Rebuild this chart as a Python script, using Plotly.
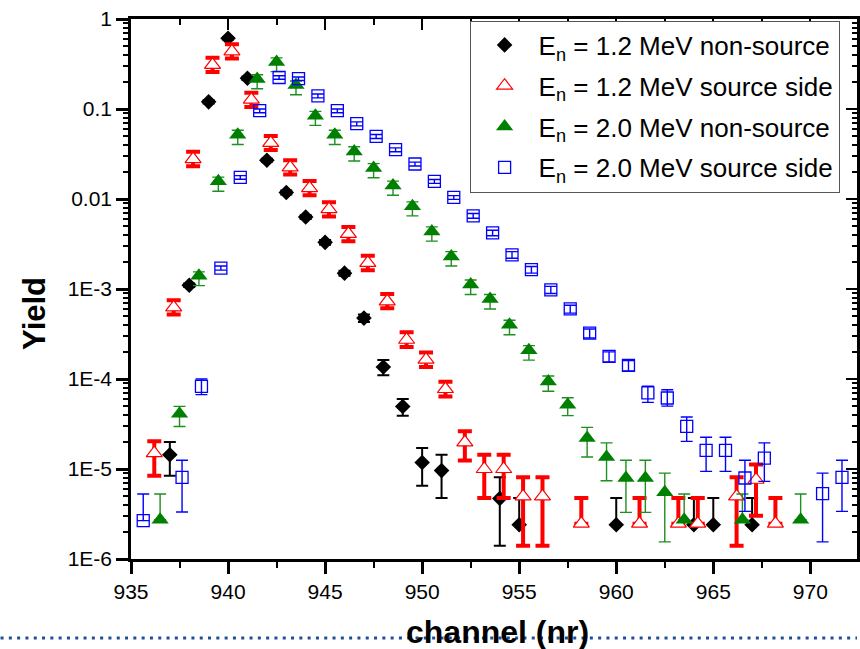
import plotly.graph_objects as go

# ---------------- data ----------------
# E_n = 1.2 MeV non-source (black diamonds)
ch_k = [937, 938, 939, 940, 941, 942, 943, 944, 945, 946, 947, 948, 949, 950, 951, 954, 955, 960, 964, 965, 967]
y_k = [1.44e-5, 1.1e-3, 0.12, 0.61, 0.22, 0.027, 0.0118, 0.0063, 0.0033, 0.0015, 4.75e-4, 1.36e-4, 4.95e-5,
       1.18e-5, 9.6e-6, 4.7e-6, 2.4e-6, 2.4e-6, 2.4e-6, 2.4e-6, 2.4e-6]
hi_k = [2.0e-5, 1.15e-3, 0.125, 0.63, 0.23, 0.028, 0.0124, 0.0066, 0.0035, 0.0016, 5.2e-4, 1.63e-4, 6.0e-5,
        1.71e-5, 1.44e-5, 8.1e-6, 4.76e-6, 4.76e-6, 4.76e-6, 4.76e-6, 4.76e-6]
lo_k = [8.4e-6, 1.05e-3, 0.115, 0.59, 0.21, 0.026, 0.0112, 0.006, 0.0031, 0.0014, 4.3e-4, 1.1e-4, 3.9e-5,
        6.5e-6, 4.76e-6, 1.4e-6, None, None, None, None, None]

# E_n = 1.2 MeV source side (red open triangles)
ch_r = [936.2, 937.2, 938.2, 939.2, 940.2, 941.2, 942.2, 943.2, 944.2, 945.2, 946.2, 947.2, 948.2, 949.2,
        950.2, 951.2, 952.2, 953.2, 954.2, 955.2, 956.2, 958.2, 961.2, 963.2, 964.2, 966.2, 967.2, 968.2]
y_r = [1.5e-5, 6.25e-4, 0.0278, 0.31, 0.437, 0.127, 0.042, 0.0225, 0.0132, 0.0077, 0.0041, 0.00195, 7.3e-4,
       2.73e-4, 1.64e-4, 7.74e-5, 1.98e-5, 1.0e-5, 1.0e-5, 4.96e-6, 4.96e-6, 2.47e-6, 2.47e-6, 2.47e-6,
       2.47e-6, 4.96e-6, 7.6e-6, 2.47e-6]
hi_r = [2.03e-5, 7.5e-4, 0.0334, 0.372, 0.524, 0.152, 0.050, 0.027, 0.0158, 0.0092, 0.0049, 0.00234, 8.8e-4,
        3.3e-4, 1.97e-4, 9.3e-5, 2.62e-5, 1.44e-5, 1.44e-5, 8.1e-6, 8.1e-6, 4.76e-6, 4.76e-6, 4.76e-6,
        4.76e-6, 8.1e-6, 1.12e-5, 4.76e-6]
lo_r = [8.4e-6, 5.2e-4, 0.0231, 0.257, 0.363, 0.105, 0.035, 0.0187, 0.011, 0.0064, 0.0034, 0.00162, 6.1e-4,
        2.27e-4, 1.36e-4, 6.4e-5, 1.24e-5, 4.76e-6, 4.76e-6, 1.4e-6, 1.4e-6, None, None, None,
        None, 1.4e-6, 3.03e-6, None]

# E_n = 2.0 MeV non-source (green filled triangles)
ch_g = [936.5, 937.5, 938.5, 939.5, 940.5, 941.5, 942.5, 943.5, 944.5, 945.5, 946.5, 947.5, 948.5, 949.5,
        950.5, 951.5, 952.5, 953.5, 954.5, 955.5, 956.5, 957.5, 958.5, 959.5, 960.5, 961.5, 962.5, 963.5,
        966.5, 969.5]
y_g = [2.73e-6, 4.1e-5, 1.4e-3, 0.0157, 0.0518, 0.215, 0.333, 0.185, 0.0843, 0.0518, 0.0338, 0.0221, 0.0141,
       0.0083, 0.00436, 0.0023, 0.00112, 7.74e-4, 4.0e-4, 2.08e-4, 9.4e-5, 5.18e-5, 2.21e-5, 1.36e-5,
       7.94e-6, 7.94e-6, 5.5e-6, 2.73e-6, 2.73e-6, 2.73e-6]
hi_g = [5.27e-6, 4.96e-5, 1.55e-3, 0.0175, 0.058, 0.24, 0.37, 0.205, 0.094, 0.058, 0.038, 0.0247, 0.0158,
        0.0093, 0.0049, 0.0026, 0.00126, 8.7e-4, 4.5e-4, 2.35e-4, 1.08e-4, 6.2e-5, 2.9e-5, 1.95e-5,
        1.25e-5, 1.25e-5, 9.0e-6, 5.27e-6, 5.27e-6, 5.27e-6]
lo_g = [None, 2.97e-5, 1.09e-3, 0.0122, 0.0404, 0.168, 0.26, 0.144, 0.0658, 0.0404, 0.0264, 0.0172, 0.011,
        0.0065, 0.0034, 0.0018, 8.7e-4, 6.0e-4, 3.1e-4, 1.62e-4, 7.3e-5, 3.92e-5, 1.36e-5, 7.4e-6,
        3.3e-6, 3.3e-6, 1.55e-6, None, None, None]

# E_n = 2.0 MeV source side (blue open squares)
ch_b = [935.63, 937.63, 938.63, 939.63, 940.63, 941.63, 942.63, 943.63, 944.63, 945.63, 946.63, 947.63,
        948.63, 949.63, 950.63, 951.63, 952.63, 953.63, 954.63, 955.63, 956.63, 957.63, 958.63, 959.63,
        960.63, 961.63, 962.63, 963.63, 964.63, 965.63, 966.63, 967.63, 970.63, 971.63]
y_b = [2.67e-6, 8.07e-6, 8.27e-5, 1.71e-3, 0.0174, 0.0958, 0.224, 0.217, 0.14, 0.0958, 0.0687, 0.0496,
       0.0353, 0.0245, 0.0157, 0.0104, 0.0065, 0.0042, 0.0024, 0.00164, 9.8e-4, 6.0e-4, 3.24e-4, 1.78e-4,
       1.42e-4, 7.0e-5, 6.15e-5, 2.98e-5, 1.61e-5, 1.61e-5, 7.94e-6, 1.32e-5, 5.32e-6, 8.07e-6]
hi_b = [5.27e-6, 1.25e-5, 1.0e-4, 1.8e-3, 0.0182, 0.1, 0.234, 0.227, 0.147, 0.1, 0.072, 0.052,
        0.037, 0.0257, 0.0165, 0.0109, 0.0069, 0.0045, 0.0026, 0.00178, 1.07e-3, 6.6e-4, 3.6e-4, 2.0e-4,
        1.6e-4, 8.3e-5, 7.6e-5, 3.78e-5, 2.25e-5, 2.25e-5, 1.25e-5, 1.95e-5, 9.0e-6, 1.25e-5]
lo_b = [None, 3.33e-6, 6.7e-5, 1.62e-3, 0.0166, 0.091, 0.214, 0.207, 0.133, 0.091, 0.065, 0.047,
        0.0335, 0.0233, 0.0149, 0.0099, 0.0061, 0.0039, 0.0022, 0.0015, 8.9e-4, 5.4e-4, 2.85e-4, 1.55e-4,
        1.23e-4, 5.5e-5, 5.0e-5, 2.03e-5, 9.4e-6, 9.4e-6, 3.38e-6, 7.28e-6, 1.55e-6, 3.38e-6]

names = ["E<sub>n</sub> = 1.2 MeV non-source", "E<sub>n</sub> = 1.2 MeV source side",
         "E<sub>n</sub> = 2.0 MeV non-source", "E<sub>n</sub> = 2.0 MeV source side"]

y_tickvals = [1e-6, 1e-5, 1e-4, 1e-3, 1e-2, 1e-1, 1]
y_ticktext = ["1E-6", "1E-5", "1E-4", "1E-3", "0.01", "0.1", "1"]

FONT = "Liberation Sans, Arial, sans-serif"


def errs(y, hi, lo):
    plus = [h - v for v, h in zip(y, hi)]
    minus = [0 if l is None else v - l for v, l in zip(y, lo)]
    return plus, minus


fig = go.Figure()

series = [
    (ch_k, y_k, hi_k, lo_k, dict(symbol="diamond", size=12, color="black"),
     dict(color="black", thickness=2, width=6)),
    (ch_r, y_r, hi_r, lo_r, dict(symbol="triangle-up", size=14, color="white",
                                 line=dict(color="#ff0000", width=1.2)),
     dict(color="#ff0000", thickness=4, width=7)),
    (ch_g, y_g, hi_g, lo_g, dict(symbol="triangle-up", size=15, color="#008000"),
     dict(color="#1f8f1f", thickness=1.4, width=6)),
    (ch_b, y_b, hi_b, lo_b, dict(symbol="square-open", size=12, color="#0000ff",
                                 line=dict(color="#0000ff", width=1.3)),
     dict(color="#0000ff", thickness=1.4, width=6)),
]

for i, (xs, ys, hi, lo, mk, eb) in enumerate(series):
    plus, minus = errs(ys, hi, lo)
    fig.add_trace(go.Scatter(
        x=xs, y=ys, mode="markers", name=names[i], legendgroup=f"g{i}",
        marker=mk,
        error_y=dict(type="data", symmetric=False, array=plus, arrayminus=minus, **eb),
    ))

# helper trace so the mirrored (inward-tick) top/right axes are drawn
fig.add_trace(go.Scatter(x=[], y=[], xaxis="x2", yaxis="y2", showlegend=False, hoverinfo="skip"))

xr = [935, 935 + 729 / 19.49]

fig.update_layout(
    width=860, height=649,
    margin=dict(l=131, r=0, t=19, b=90),
    paper_bgcolor="white", plot_bgcolor="white",
    font=dict(family=FONT, color="black"),
    showlegend=True,
    xaxis=dict(
        range=xr, tick0=935, dtick=5, ticks="outside", ticklen=12, tickwidth=2.5,
        tickcolor="black", showline=True, linewidth=2.5, linecolor="black", mirror=True,
        showgrid=False, zeroline=False, tickfont=dict(size=21, family=FONT),
        minor=dict(dtick=2.5, ticks="outside", ticklen=6, tickwidth=2, tickcolor="black", showgrid=False),
    ),
    xaxis2=dict(
        range=xr, overlaying="x", side="top", anchor="y2", tick0=935, dtick=5, ticks="inside",
        ticklen=11, tickwidth=2, tickcolor="black", showticklabels=False, showline=False,
        showgrid=False, zeroline=False,
        minor=dict(dtick=2.5, ticks="inside", ticklen=6, tickwidth=2, tickcolor="black", showgrid=False),
    ),
    yaxis=dict(
        type="log", range=[-6, 0], tickvals=y_tickvals, ticktext=y_ticktext, ticks="outside",
        ticklen=12, tickwidth=2.5, tickcolor="black", showline=True, linewidth=2.5,
        linecolor="black", mirror=True, showgrid=False, zeroline=False,
        tickfont=dict(size=21, family=FONT),
        minor=dict(dtick="D1", ticks="outside", ticklen=5, tickwidth=2, tickcolor="black", showgrid=False),
    ),
    yaxis2=dict(
        type="log", range=[-6, 0], overlaying="y", side="right", anchor="x2",
        tickvals=y_tickvals, ticks="inside", ticklen=11, tickwidth=2, tickcolor="black",
        showticklabels=False, showline=False, showgrid=False, zeroline=False,
        minor=dict(dtick="D1", ticks="inside", ticklen=5, tickwidth=2, tickcolor="black", showgrid=False),
    ),
    legend=dict(
        x=(471 - 131) / 729, y=(559 - 20.5) / 540, xanchor="left", yanchor="top",
        bgcolor="white", bordercolor="#555555", borderwidth=1,
        font=dict(size=26, family=FONT, color="black"),
        itemwidth=58, tracegroupgap=4,
    ),
    shapes=[dict(
        type="line", xref="paper", yref="paper",
        x0=-131 / 729, x1=1.0, y0=-(638 - 559) / 540, y1=-(638 - 559) / 540,
        line=dict(color="#1F4E96", width=3, dash="3px,5.3px"),
    )],
    annotations=[
        dict(text="<b>Yield</b>", xref="paper", yref="paper",
             x=(34 - 131) / 729, y=(559 - 313.5) / 540, textangle=-90,
             xanchor="center", yanchor="middle", showarrow=False,
             font=dict(size=31, family=FONT, color="black")),
        dict(text="<b>channel (nr)</b>", xref="paper", yref="paper",
             x=(499.5 - 131) / 729, y=(559 - 631.6) / 540,
             xanchor="center", yanchor="middle", showarrow=False,
             font=dict(size=32, family=FONT, color="black")),
    ],
)

fig.write_html("out.html")
